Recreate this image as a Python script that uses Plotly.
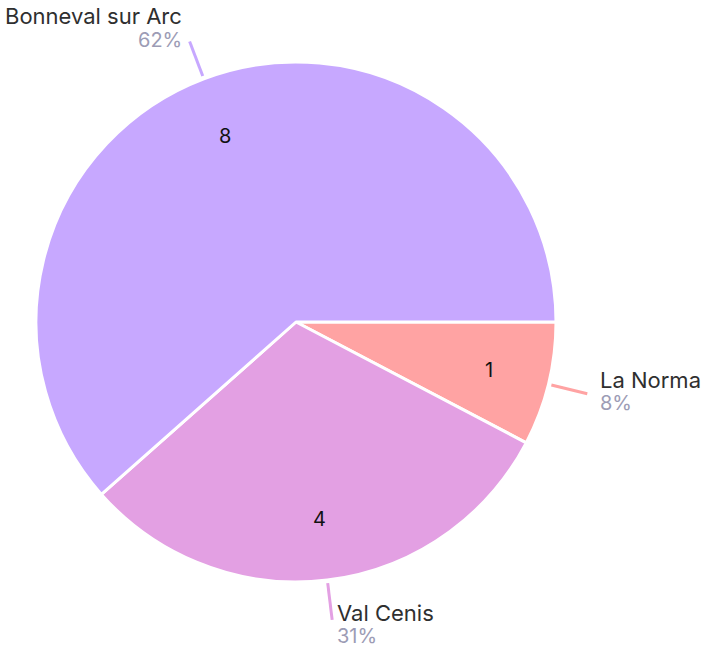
import math
import plotly.graph_objects as go

# Resort counts
labels = ["La Norma", "Val Cenis", "Bonneval sur Arc"]
values = [1, 4, 8]
colors = ["#FFA3A3", "#E3A0E3", "#C7A8FF"]

W, H = 702, 651
M = dict(l=36, r=146, t=62, b=69)
FONT = "Inter, Lato, sans-serif"

plot_w = W - M["l"] - M["r"]
plot_h = H - M["t"] - M["b"]
cx = M["l"] + plot_w / 2
cy = M["t"] + plot_h / 2
R = min(plot_w, plot_h) / 2


def px(x):
    return (x - M["l"]) / plot_w


def py(y):
    return 1 - (y - M["t"]) / plot_h


fig = go.Figure(
    go.Pie(
        labels=labels,
        values=values,
        sort=False,
        direction="clockwise",
        rotation=90,
        marker=dict(colors=colors, line=dict(color="white", width=3)),
        textinfo="none",
        hoverinfo="label+value+percent",
        showlegend=False,
    )
)

total = sum(values)
start = 0.0  # degrees, measured counter-clockwise from 3 o'clock
annotations = []
shapes = []
for lab, val, col in zip(labels, values, colors):
    span = 360.0 * val / total
    mid = math.radians(start - span / 2)
    start -= span
    c, s = math.cos(mid), math.sin(mid)

    # value inside the slice
    annotations.append(dict(
        x=px(cx + 0.765 * R * c), y=py(cy - 0.765 * R * s),
        xref="paper", yref="paper", text=str(val), showarrow=False,
        font=dict(family=FONT, size=20, color="#111111"),
        xanchor="center", yanchor="middle",
    ))

    # leader line outside the slice
    x0, y0 = cx + (R + 3) * c, cy - (R + 3) * s
    x1, y1 = cx + (R + 40) * c, cy - (R + 40) * s
    shapes.append(dict(
        type="line", xref="paper", yref="paper",
        x0=px(x0), y0=py(y0), x1=px(x1), y1=py(y1),
        line=dict(color=col, width=3),
    ))

    # outside label: name with percentage below
    pct = round(100 * val / total)
    gap = 2 + 9 * abs(c)
    if c >= 0:
        xa, lx = "left", x1 + gap
    else:
        xa, lx = "right", x1 - gap
    name_y = y1 - 16.3 - 9.3 * s
    annotations.append(dict(
        x=px(lx), y=py(name_y), xref="paper", yref="paper", text=lab,
        showarrow=False, xanchor=xa, yanchor="middle",
        font=dict(family=FONT, size=22, color="#2f2f2f"),
    ))
    annotations.append(dict(
        x=px(lx), y=py(name_y + 23.5), xref="paper", yref="paper",
        text=f"{pct}%", showarrow=False, xanchor=xa, yanchor="middle",
        font=dict(family=FONT, size=20, color="#9c9cb5"),
    ))

fig.update_layout(
    width=W, height=H,
    margin=dict(M, pad=0),
    paper_bgcolor="white",
    plot_bgcolor="white",
    annotations=annotations,
    shapes=shapes,
)

fig.write_html("out.html")
